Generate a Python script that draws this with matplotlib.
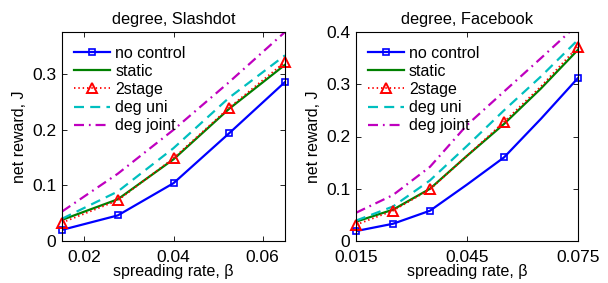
import matplotlib
matplotlib.use("Agg")
import matplotlib.pyplot as plt
from matplotlib.lines import Line2D
import numpy as np

plt.rcParams['font.family'] = ['Liberation Sans', 'DejaVu Sans']

# ---- data ----
labels = ["no control", "static", "2stage", "deg uni", "deg joint"]

x_slash = [0.015, 0.0275, 0.04, 0.0525, 0.065]
slash_nocontrol = [0.020, 0.046, 0.104, 0.194, 0.286]
slash_static = [0.038, 0.075, 0.147, 0.238, 0.317]
slash_2stage = [0.033, 0.073, 0.149, 0.240, 0.322]
slash_deguni = [0.040, 0.089, 0.167, 0.258, 0.334]
slash_degjoint = [0.053, 0.121, 0.200, 0.286, 0.376]

x_fb = [0.015, 0.025, 0.035, 0.045, 0.055, 0.065, 0.075]
fb_marker_idx = [0, 1, 2, 4, 6]
fb_nocontrol = [0.019, 0.033, 0.058, 0.108, 0.160, 0.234, 0.312]
fb_static = [0.037, 0.060, 0.100, 0.163, 0.224, 0.292, 0.366]
fb_2stage = [0.031, 0.058, 0.099, 0.163, 0.228, 0.296, 0.372]
fb_deguni = [0.039, 0.066, 0.116, 0.182, 0.250, 0.315, 0.385]
fb_degjoint = [0.054, 0.088, 0.142, 0.222, 0.286, 0.350, 0.415]

slash_xticks = [0.02, 0.04, 0.06]
slash_xticklabels = ["0.02", "0.04", "0.06"]
slash_yticks = [0, 0.1, 0.2, 0.3]
slash_yticklabels = ["0", "0.1", "0.2", "0.3"]
fb_xticks = [0.015, 0.045, 0.075]
fb_xticklabels = ["0.015", "0.045", "0.075"]
fb_yticks = [0, 0.1, 0.2, 0.3, 0.4]
fb_yticklabels = ["0", "0.1", "0.2", "0.3", "0.4"]

W, H = 608, 283
fig = plt.figure(figsize=(W / 100, H / 100), dpi=100)

def px_axes(l, t, r, b):
    return fig.add_axes([l / W, 1 - b / H, (r - l) / W, (b - t) / H])

ax1 = px_axes(62, 32, 285, 241)
ax2 = px_axes(356, 32, 578, 241)

BLUE = (0, 0, 1)
GREEN = (0, 0.5, 0)
RED = (1, 0, 0)
CYAN = (0, 0.75, 0.75)
MAG = (0.75, 0, 0.75)

def draw(ax, x, series, markevery, title, xlim, ylim, xt, xtl, yt, ytl):
    nc, st, ts, du, dj = series
    lw = 1.6
    sq = dict(marker='s', ms=5, mfc='none', mec=BLUE, mew=1.2)
    tri = dict(marker='^', ms=7.5, mfc='none', mec=RED, mew=1.4)
    dot = (0, (0.8, 1.6))
    dash = (0, (4.5, 2.8))
    dashdot = (0, (4.5, 2.2, 0.8, 2.2))
    ax.plot(x, nc, color=BLUE, lw=lw, zorder=3)
    ax.plot(x, st, color=GREEN, lw=lw, zorder=3)
    ax.plot(x, ts, color=RED, lw=1.3, ls=dot, zorder=3)
    ax.plot(x, du, color=CYAN, lw=lw, ls=dash, zorder=3)
    ax.plot(x, dj, color=MAG, lw=lw, ls=dashdot, zorder=3)
    # markers, not clipped at the axes edge
    ax.plot(x, nc, ls='none', markevery=markevery, clip_on=False, zorder=4, **sq)
    ax.plot(x, ts, ls='none', markevery=markevery, clip_on=False, zorder=4, **tri)
    handles = [
        Line2D([], [], color=BLUE, lw=lw, **sq),
        Line2D([], [], color=GREEN, lw=lw),
        Line2D([], [], color=RED, lw=1.3, ls=dot, **tri),
        Line2D([], [], color=CYAN, lw=lw, ls=dash),
        Line2D([], [], color=MAG, lw=lw, ls=dashdot),
    ]
    ax.set_xlim(*xlim)
    ax.set_ylim(*ylim)
    ax.set_xticks(xt)
    ax.set_xticklabels(xtl)
    ax.set_yticks(yt)
    ax.set_yticklabels(ytl)
    ax.tick_params(direction='in', length=3.5, width=0.6, top=True, right=True,
                   labelsize=12.5, pad=4, colors='black')
    ax.tick_params(axis='x', pad=6.5)
    for s in ax.spines.values():
        s.set_linewidth(0.8)
        s.set_zorder(5)
    ax.set_title(title, fontsize=11.8, pad=6)
    ax.set_xlabel(u"spreading rate, \u03b2", fontsize=11.5, labelpad=-1)
    ax.set_ylabel("net reward, J", fontsize=11.5, labelpad=4)
    ax.legend(handles, labels, loc='upper left', bbox_to_anchor=(0.052, 0.935),
              frameon=False, fontsize=11.5, borderpad=0, borderaxespad=0,
              handlelength=2.3, handletextpad=0.3, labelspacing=0.2)

draw(ax1, x_slash, [slash_nocontrol, slash_static, slash_2stage, slash_deguni, slash_degjoint],
     None, "degree, Slashdot", (0.015, 0.065), (0, 0.376),
     slash_xticks, slash_xticklabels, slash_yticks, slash_yticklabels)
draw(ax2, x_fb, [fb_nocontrol, fb_static, fb_2stage, fb_deguni, fb_degjoint],
     fb_marker_idx, "degree, Facebook", (0.015, 0.075), (0, 0.4),
     fb_xticks, fb_xticklabels, fb_yticks, fb_yticklabels)

fig.savefig("out.png", dpi=100)
